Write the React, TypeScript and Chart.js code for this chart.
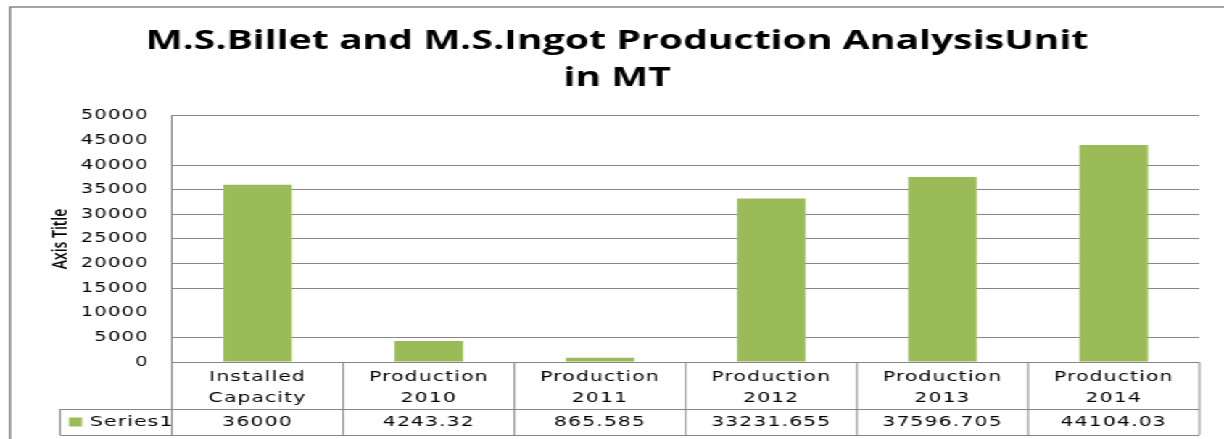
import React, { useEffect, useRef } from "react";
import { Chart, registerables } from "chart.js";

Chart.register(...registerables);

// ---- data ----
const categories: string[][] = [
  ["Installed", "Capacity"],
  ["Production", "2010"],
  ["Production", "2011"],
  ["Production", "2012"],
  ["Production", "2013"],
  ["Production", "2014"],
];
const seriesName = "Series1";
const seriesValues: number[] = [36000, 4243.32, 865.585, 33231.655, 37596.705, 44104.03];
const titleLines: string[] = ["M.S.Billet and M.S.Ingot Production AnalysisUnit", "in MT"];
const yAxisTitle = "Axis Title";
const yMin = 0;
const yMax = 50000;
const yStep = 5000;
const hiddenGridValues: number[] = [45000, 10000];

// ---- style ----
const STRETCH = 1224 / 844;
const CANVAS_W = 844;
const CANVAS_H = 439;
const BAR_COLOR = "#9BBB59";
const LINE_COLOR = "#868686";
const TABLE_FONT = "14px 'DejaVu Sans'";
const LETTER_SPACING = "0.8px";

const tablePlugin = {
  id: "dataTable",
  beforeDraw(chart: any) {
    (chart.ctx as any).letterSpacing = "0px";
  },
  afterDatasetsDraw(chart: any) {
    // tick labels (z: 1) and table text are drawn after this point
    (chart.ctx as any).letterSpacing = LETTER_SPACING;
  },
  afterDraw(chart: any) {
    const { ctx, chartArea, scales } = chart;
    const x = scales.x;
    const n = categories.length;
    const colW = (chartArea.right - chartArea.left) / n;
    const top = chartArea.bottom;
    const rowTop = x.bottom;
    const rowBottom = rowTop + 26;
    const seriesLeft = chartArea.left - 112 / STRETCH;
    ctx.save();
    ctx.strokeStyle = LINE_COLOR;
    ctx.lineWidth = 1;
    ctx.beginPath();
    for (let i = 0; i <= n; i++) {
      const px = chartArea.left + i * colW;
      ctx.moveTo(px, top);
      ctx.lineTo(px, rowBottom);
    }
    ctx.moveTo(chartArea.left, Math.round(top) + 0.5);
    ctx.lineTo(chartArea.right, Math.round(top) + 0.5);
    ctx.moveTo(seriesLeft, Math.round(rowTop) + 0.5);
    ctx.lineTo(chartArea.right, Math.round(rowTop) + 0.5);
    ctx.moveTo(seriesLeft, Math.round(rowBottom) + 0.5);
    ctx.lineTo(chartArea.right, Math.round(rowBottom) + 0.5);
    ctx.moveTo(seriesLeft, rowTop);
    ctx.lineTo(seriesLeft, rowBottom);
    ctx.stroke();

    const midY = (rowTop + rowBottom) / 2;
    ctx.fillStyle = BAR_COLOR;
    ctx.fillRect(seriesLeft + 6.2, midY - 4.5, 9, 9);
    ctx.fillStyle = "#000";
    ctx.font = TABLE_FONT;
    ctx.letterSpacing = LETTER_SPACING;
    ctx.textBaseline = "middle";
    ctx.textAlign = "left";
    ctx.fillText(seriesName, seriesLeft + 20.7, midY);
    ctx.textAlign = "center";
    seriesValues.forEach((v, i) => {
      ctx.fillText(String(v), x.getPixelForValue(i), midY);
    });

    // outer chart border
    ctx.strokeStyle = LINE_COLOR;
    ctx.lineWidth = 1.5;
    ctx.beginPath();
    ctx.moveTo(6.9, chart.height + 5);
    ctx.lineTo(6.9, 7);
    ctx.lineTo(chart.width + 5, 7);
    ctx.stroke();
    ctx.restore();
    (ctx as any).letterSpacing = "0px";
  },
};

export default function App() {
  const ref = useRef<HTMLCanvasElement | null>(null);

  useEffect(() => {
    document.body.style.margin = "0";
    document.body.style.overflow = "hidden";
    const canvas = ref.current;
    if (!canvas) return;
    const chart = new Chart(canvas, {
      type: "bar",
      data: {
        labels: categories,
        datasets: [
          {
            label: seriesName,
            data: seriesValues,
            backgroundColor: BAR_COLOR,
            borderWidth: 0,
            categoryPercentage: 1,
            barPercentage: 0.4,
          },
        ],
      },
      options: {
        animation: false,
        responsive: true,
        maintainAspectRatio: false,
        devicePixelRatio: 1,
        layout: { padding: { left: 24, right: 17, top: 0, bottom: 30 } },
        plugins: {
          legend: { display: false },
          tooltip: { enabled: false },
          title: {
            display: true,
            text: titleLines,
            color: "#000",
            font: { family: "Open Sans", size: 27, weight: "bold", lineHeight: 1.37 },
            padding: { top: 22.5, bottom: 19.5 },
          },
        },
        scales: {
          x: {
            grid: { display: false },
            border: { display: false },
            ticks: {
              z: 1,
              color: "#000",
              font: { family: "DejaVu Sans", size: 14, lineHeight: 1.536 },
              padding: -3.75,
              maxRotation: 0,
              autoSkip: false,
            },
            afterFit: (s: any) => {
              s.height = 47;
            },
          },
          y: {
            min: yMin,
            max: yMax,
            ticks: {
              z: 1,
              stepSize: yStep,
              color: "#000",
              font: { family: "DejaVu Sans", size: 13.5 },
              padding: 16,
              callback: (v: any) => String(v),
            },
            grid: {
              drawTicks: false,
              lineWidth: 1,
              color: (c: any) =>
                c.tick && hiddenGridValues.includes(c.tick.value) ? "rgba(0,0,0,0)" : LINE_COLOR,
            },
            border: { display: true, color: LINE_COLOR },
            title: {
              display: true,
              text: yAxisTitle,
              color: "#000",
              font: { family: "Open Sans", size: 14, weight: "600" },
              padding: { top: 10, bottom: 0 },
            },
            afterFit: (s: any) => {
              s.width = 94.6;
            },
          },
        },
      },
      plugins: [tablePlugin],
    } as any);
    return () => chart.destroy();
  }, []);

  return (
    <div
      style={{
        position: "absolute",
        left: 0,
        top: 0,
        width: CANVAS_W,
        height: CANVAS_H,
        transform: `scaleX(${STRETCH})`,
        transformOrigin: "0 0",
        background: "#fff",
      }}
    >
      <canvas ref={ref} />
    </div>
  );
}
